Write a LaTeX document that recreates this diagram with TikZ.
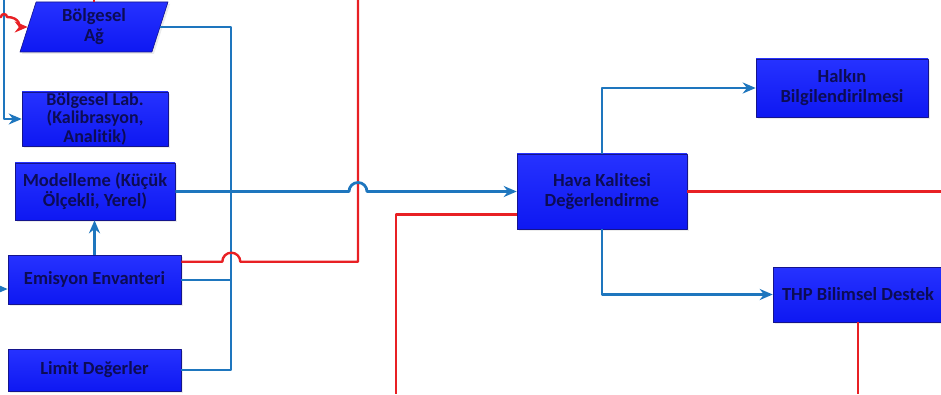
\documentclass[tikz,border=0pt]{standalone}
\usepackage{fontspec}
\setmainfont{Carlito}[Ligatures=NoCommon]
\usetikzlibrary{arrows.meta,shapes.geometric,calc,shadows}
\definecolor{boxtop}{RGB}{38,50,255}
\definecolor{boxbot}{RGB}{14,24,242}
\definecolor{boxedge}{RGB}{20,20,140}
\definecolor{navytext}{RGB}{12,12,85}
\definecolor{linkblue}{RGB}{30,118,190}
\definecolor{linkred}{RGB}{232,32,36}
\begin{document}
\begin{tikzpicture}[x=1pt,y=1pt,line join=round,>={Stealth[length=13pt,width=11pt]}]
	\tikzset{every node/.style={font=\fontsize{18.5}{20}\selectfont\bfseries,text=navytext,align=center,inner sep=0pt}}
	\tikzset{blok/.style={draw=boxedge,line width=0.6pt,top color=boxtop,bottom color=boxbot,drop shadow={opacity=0.15,shadow xshift=2pt,shadow yshift=-2pt}}}
	\tikzset{mavi/.style={linkblue,line width=2.8pt}}
	\tikzset{ince/.style={linkblue,line width=2pt}}
	\tikzset{kirmizi/.style={linkred,line width=2.4pt}}
	\useasboundingbox (0,0) rectangle (941,394);
	\clip (0,0) rectangle (941,394);
	\node[blok,trapezium,trapezium left angle=66,trapezium right angle=114,trapezium stretches body,minimum width=148pt,minimum height=50pt] (ag) at (94,367) {Bölgesel\\Ağ};
	\node[blok,minimum width=146pt,minimum height=54pt,font=\fontsize{18}{18.5}\selectfont\bfseries] (lab) at (95,275) {Bölgesel Lab.\\(Kalibrasyon,\\Analitik)};
	\node[blok,minimum width=160pt,minimum height=57pt] (mod) at (95,202.5) {Modelleme (Küçük\\Ölçekli, Yerel)};
	\node[blok,minimum width=173pt,minimum height=49pt] (emis) at (94.5,114.5) {Emisyon Envanteri};
	\node[blok,minimum width=173pt,minimum height=42pt] (limit) at (94.5,24) {Limit Değerler};
	\node[blok,minimum width=170pt,minimum height=75pt] (hava) at (602,202.5) {Hava Kalitesi\\Değerlendirme};
	\node[blok,minimum width=172pt,minimum height=58pt] (halkin) at (842,306) {Halkın\\Bilgilendirilmesi};
	\node[blok,minimum width=170pt,minimum height=55pt] (thp) at (858,99.5) {THP Bilimsel Destek};
	\coordinate (tb) at ($(limit.east)+(50,0)$);
	\coordinate (kd) at (358,0);
	\coordinate (ein) at (0,105);
	\coordinate (sag) at (941,0);
	\draw[ince,->] (4,394) |- (lab.west);
	\draw[kirmizi,->] (0,377) -- (1,377) arc[start angle=180,end angle=0,radius=3] .. controls (20,377) and (20,367) .. (ag.west);
	\draw[kirmizi] (ag.north) -- (ag.north |- 0,394);
	\draw[ince] (ag.east) -| (tb) -- (limit.east);
	\draw[ince] (emis.east) -- (emis.east -| tb);
	\draw[mavi,->] (emis.north) -- (emis.north |- mod.south);
	\draw[mavi,->] (ein) -- (emis.west |- ein);
	\draw[kirmizi] ($(emis.north east)+(0,-7)$) coordinate (er) -- ($(er -| tb)+(-9,0)$) arc[start angle=180,end angle=0,radius=9] -- (er -| kd) -- (kd |- 0,394);
	\draw[mavi,->] (mod.east) -- ($(mod.east -| kd)+(-9,0)$) arc[start angle=180,end angle=0,radius=9] -- (hava.west);
	\draw[kirmizi] (hava.east) -- (hava.east -| sag);
	\draw[kirmizi] ($(hava.south west)+(0,15)$) -| (396,0);
	\draw[mavi,->] (hava.north) |- (halkin.west);
	\draw[mavi,->] (hava.south) |- (thp.west);
	\draw[kirmizi] (thp.south) -- (thp.south |- 0,0);
\end{tikzpicture}
\end{document}
